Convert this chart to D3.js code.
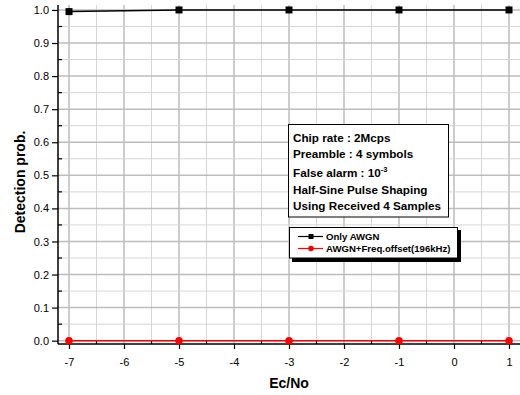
<!DOCTYPE html>
<html>
<head>
<meta charset="utf-8">
<script src="https://cdn.jsdelivr.net/npm/d3@7"></script>
<style>
  html, body { margin: 0; padding: 0; background: #fff; }
  svg { display: block; font-family: Arial, "Liberation Sans", sans-serif; }
</style>
</head>
<body>
<svg id="chart" width="520" height="395"></svg>
<script>
// Ec/No sample points (dB)
const ecno = [-7, -5, -3, -1, 1];
// Detection probability per scenario
const onlyAwgn = [0.995, 1.0, 1.0, 1.0, 1.0];
const awgnFreqOffset = [0.0, 0.0, 0.0, 0.0, 0.0];
const seriesNames = ["Only AWGN", "AWGN+Freq.offset(196kHz)"];
const xTicks = [-7, -6, -5, -4, -3, -2, -1, 0, 1];
const yTicks = [0.0, 0.1, 0.2, 0.3, 0.4, 0.5, 0.6, 0.7, 0.8, 0.9, 1.0];
const infoLines = ["Chip rate : 2Mcps", "Preamble : 4 symbols", "False alarm : 10", "Half-Sine Pulse Shaping", "Using Received 4 Samples"];

const svg = d3.select("#chart");
const plotL = 58, plotR = 520, plotT = 5, plotB = 344;

const x = d3.scaleLinear().domain([-7.2, 1.2]).range([plotL, plotR]);
const y = d3.scaleLinear().domain([-0.01, 1.015]).range([plotB, plotT]);

// grid: minor then major
const g = svg.append("g");
const xMinor = d3.range(-7, 1.01, 0.5);
const yMinor = d3.range(0, 1.001, 0.05);
g.selectAll("line.vx").data(xMinor).join("line")
  .attr("x1", d => x(d)).attr("x2", d => x(d))
  .attr("y1", plotT).attr("y2", plotB)
  .attr("stroke", d => Number.isInteger(d) ? "#bdbdbd" : "#d6d6d6")
  .attr("stroke-width", d => Number.isInteger(d) ? 1.5 : 1);
g.selectAll("line.hy").data(yMinor).join("line")
  .attr("x1", plotL).attr("x2", plotR)
  .attr("y1", d => y(d)).attr("y2", d => y(d))
  .attr("stroke", (d, i) => i % 2 === 0 ? "#bdbdbd" : "#d6d6d6")
  .attr("stroke-width", (d, i) => i % 2 === 0 ? 1.5 : 1);

// axes (plain hyphen for negative numbers)
const xAxis = d3.axisBottom(x).tickValues(xTicks).tickFormat(d => String(d)).tickSize(5).tickSizeOuter(0);
const yAxis = d3.axisLeft(y).tickValues(yTicks).tickFormat(d => d.toFixed(1)).tickSize(6).tickSizeOuter(0);

const gx = svg.append("g").attr("transform", `translate(0,${plotB})`).call(xAxis);
const gy = svg.append("g").attr("transform", `translate(${plotL},0)`).call(yAxis);
[gx, gy].forEach(a => {
  a.select(".domain").attr("stroke", "#000").attr("stroke-width", 1.5);
  a.selectAll(".tick line").attr("stroke", "#000").attr("stroke-width", 1.2);
  a.selectAll(".tick text").attr("fill", "#000").attr("font-size", 11)
    .attr("font-family", "Arial, 'Liberation Sans', sans-serif");
});
gx.select(".domain").attr("d", `M${plotL},0H${plotR}`);
gy.select(".domain").attr("d", `M0,${plotT}V${plotB}`);
gx.selectAll(".tick text").attr("dy", "1.25em");
gy.selectAll(".tick text").attr("x", -9);

// minor ticks pointing inward
svg.append("g").selectAll("line").data(xMinor.filter(d => !Number.isInteger(d))).join("line")
  .attr("x1", d => x(d)).attr("x2", d => x(d))
  .attr("y1", plotB).attr("y2", plotB - 4)
  .attr("stroke", "#000").attr("stroke-width", 1.2);
svg.append("g").selectAll("line").data(yMinor.filter((d, i) => i % 2 === 1)).join("line")
  .attr("x1", plotL).attr("x2", plotL + 4)
  .attr("y1", d => y(d)).attr("y2", d => y(d))
  .attr("stroke", "#000").attr("stroke-width", 1.2);

// axis titles
svg.append("text").attr("x", x(-3)).attr("y", 388)
  .attr("text-anchor", "middle").attr("font-size", 14).attr("font-weight", "bold")
  .text("Ec/No");
svg.append("text").attr("transform", "translate(25,182) rotate(-90)")
  .attr("text-anchor", "middle").attr("font-size", 14).attr("font-weight", "bold")
  .text("Detection prob.");

// series
const line = d3.line().x(d => x(d[0])).y(d => y(d[1]));
const s1 = ecno.map((v, i) => [v, onlyAwgn[i]]);
const s2 = ecno.map((v, i) => [v, awgnFreqOffset[i]]);

svg.append("path").datum(s2).attr("d", line).attr("fill", "none")
  .attr("stroke", "#ff0000").attr("stroke-width", 1.5);
svg.append("g").selectAll("circle").data(s2).join("circle")
  .attr("cx", d => x(d[0])).attr("cy", d => y(d[1])).attr("r", 3.8).attr("fill", "#ff0000");

svg.append("path").datum(s1).attr("d", line).attr("fill", "none")
  .attr("stroke", "#000").attr("stroke-width", 1.5);
svg.append("g").selectAll("rect").data(s1).join("rect")
  .attr("x", d => x(d[0]) - 3.5).attr("y", d => y(d[1]) - 3.5)
  .attr("width", 7).attr("height", 7).attr("fill", "#000");

// info box
const ib = svg.append("g");
ib.append("rect").attr("x", 288.5).attr("y", 124.5).attr("width", 160).attr("height", 92.5)
  .attr("fill", "#fff").attr("stroke", "#000").attr("stroke-width", 1);
const lineY = [142, 158, 177, 194, 210];
infoLines.forEach((t, i) => {
  const tx = ib.append("text").attr("x", 293).attr("y", lineY[i])
    .attr("font-size", 11.7).attr("font-weight", "bold").text(t);
  if (i === 2) {
    tx.append("tspan").attr("dy", -5).attr("font-size", 7.5).text("-3");
  }
});

// legend with drop shadow
const lg = svg.append("g");
lg.append("rect").attr("x", 292).attr("y", 230).attr("width", 169).attr("height", 32).attr("fill", "#000");
lg.append("rect").attr("x", 289.5).attr("y", 227.5).attr("width", 168).attr("height", 30.5)
  .attr("fill", "#fff").attr("stroke", "#000").attr("stroke-width", 1);
const legY = [236.5, 248.5];
const colors = ["#000", "#ff0000"];
seriesNames.forEach((n, i) => {
  lg.append("line").attr("x1", 298).attr("x2", 323).attr("y1", legY[i]).attr("y2", legY[i])
    .attr("stroke", colors[i]).attr("stroke-width", 1.2);
  if (i === 0) {
    lg.append("rect").attr("x", 308.5).attr("y", legY[i] - 2.5).attr("width", 5).attr("height", 5).attr("fill", "#000");
  } else {
    lg.append("circle").attr("cx", 311).attr("cy", legY[i]).attr("r", 2.8).attr("fill", "#ff0000");
  }
  lg.append("text").attr("x", 326).attr("y", legY[i] + 3.5)
    .attr("font-size", 9.6).attr("font-weight", "bold").text(n);
});
</script>
</body>
</html>
